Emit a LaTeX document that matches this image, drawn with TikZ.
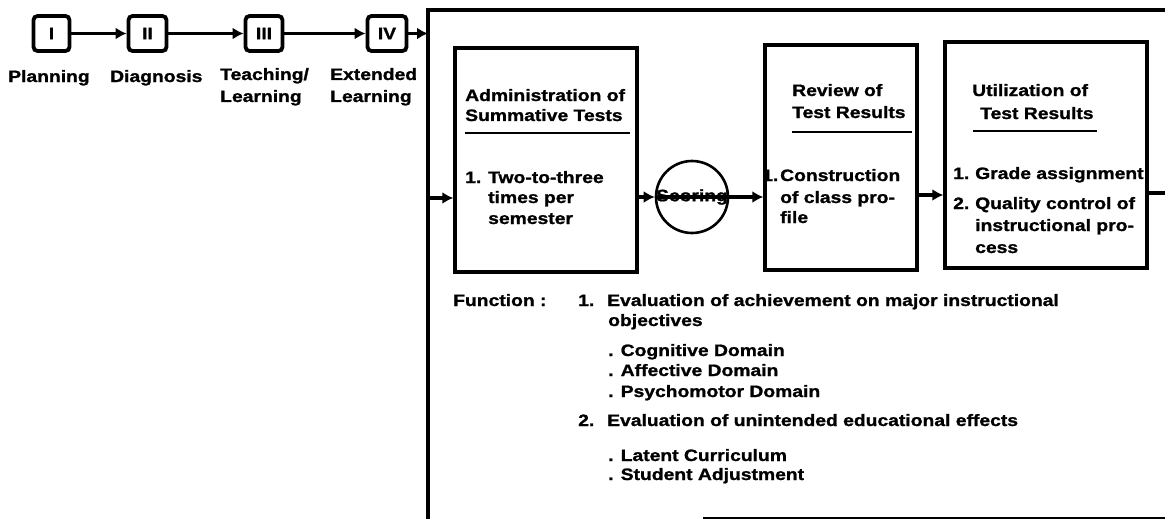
\documentclass[tikz,border=0pt]{standalone}
\usepackage{fontspec}
\setmainfont{Liberation Sans}[FakeStretch=1.17, BoldFeatures={FakeBold=1.2}]
\usetikzlibrary{arrows.meta}
\begin{document}
\begin{tikzpicture}[x=1pt,y=-1pt,
  tx/.style={anchor=base west, inner sep=0pt, font=\fontsize{16.5}{20}\selectfont\bfseries},
  bigbox/.style={draw, line width=3.4pt, inner sep=0pt, rectangle},
  smallbox/.style={draw, line width=3.8pt, rounded corners=4pt, minimum width=36pt, minimum height=35pt, inner sep=0pt, font=\fontsize{16.5}{20}\selectfont\bfseries},
  conn/.style={line width=3.6pt, -{Latex[length=11pt,width=12pt]}},
  plain/.style={line width=3.6pt},
  uline/.style={line width=2.2pt}]
\useasboundingbox (0,0) rectangle (1165,519);

% top process boxes
\node[smallbox] (b1) at (51.5,33.5) {I};
\node[smallbox, minimum width=38pt] (b2) at (147.5,33.5) {II};
\node[smallbox, minimum width=37pt] (b3) at (264,33.5) {III};
\node[smallbox, minimum width=39pt] (b4) at (387,33.5) {IV};
\node[tx] (l1) at (8,82) {Planning};
\node[tx] (l2) at (110,82) {Diagnosis};
\node[tx] (l3a) at (220,80) {Teaching/};
\node[tx] (l3b) at (220,102) {Learning};
\node[tx] (l4a) at (330,80) {Extended};
\node[tx] (l4b) at (330,102) {Learning};

% frame
\draw[line width=3.8pt] (428,525) -- (428,10) -- (1175,10);
\draw[line width=2pt] (703,518) -- (1175,518);
\coordinate (fr1) at (428,33.5);
\coordinate (fr2) at (428,198);

\draw[conn] (b1) -- (b2);
\draw[conn] (b2) -- (b3);
\draw[conn] (b3) -- (b4);
\draw[conn] (b4) -- (fr1);

% main boxes
\node[bigbox, minimum width=182pt, minimum height=224pt] (A) at (546,160) {};
\node[bigbox, minimum width=152pt, minimum height=225pt] (B) at (841,157.5) {};
\node[bigbox, minimum width=202pt, minimum height=226pt] (C) at (1046,155) {};
\node[circle, draw, line width=2.6pt, minimum size=72pt, inner sep=0pt] (S) at (692,197) {};

% connectors
\draw[conn] (fr2) -- (fr2 -| A.west);
\draw[conn] (A.east |- S) -- (S.west);
\draw[plain] (S.west) -- (S.east);
\draw[conn] (S.east) -- (S -| B.west);
\coordinate (bc) at (917,195);
\draw[conn] (B.east |- bc) -- (C.west |- bc);
\coordinate (out) at (1175,193);
\draw[plain] (C.east |- out) -- (out);
\node[inner sep=0pt, font=\fontsize{16.5}{20}\selectfont\bfseries] (Sl) at (S) {Scoring};

% box A text
\node[tx] (a1) at (465,101) {Administration of};
\node[tx] (a2) at (465,121) {Summative Tests};
\draw[uline] (465,133) -- (630,133);
\node[tx] (a3) at (465,183) {1.};
\node[tx] (a4) at (488,183) {Two-to-three};
\node[tx] (a5) at (488,203) {times per};
\node[tx] (a6) at (488,224) {semester};

% box B text
\node[tx] (r1) at (792,96) {Review of};
\node[tx] (r2) at (792,118) {Test Results};
\draw[uline] (792,132) -- (912,132);
\node[tx] (r3) at (762,181) {1.};
\node[tx] (r4) at (780,181) {Construction};
\node[tx] (r5) at (780,203) {of class pro-};
\node[tx] (r6) at (780,223) {file};

% box C text
\node[tx] (u1) at (972,96) {Utilization of};
\node[tx] (u2) at (980,119) {Test Results};
\draw[uline] (973,131) -- (1097,131);
\node[tx] (u3) at (953,179) {1.};
\node[tx] (u4) at (975,179) {Grade assignment};
\node[tx] (u5) at (953,209) {2.};
\node[tx] (u6) at (975,209) {Quality control of};
\node[tx] (u7) at (975,231) {instructional pro-};
\node[tx] (u8) at (975,253) {cess};

% function text
\node[tx] (f0) at (453,306) {Function :};
\node[tx] (f1) at (578,306) {1.};
\node[tx] (f2) at (607,306) {Evaluation of achievement on major instructional};
\node[tx] (f3) at (608,326) {objectives};
\node[tx] (f4) at (608,356) {. Cognitive Domain};
\node[tx] (f5) at (608,376) {. Affective Domain};
\node[tx] (f6) at (608,397) {. Psychomotor Domain};
\node[tx] (f7) at (578,426) {2.};
\node[tx] (f8) at (607,426) {Evaluation of unintended educational effects};
\node[tx] (f9) at (608,461) {. Latent Curriculum};
\node[tx] (f10) at (608,480) {. Student Adjustment};
\end{tikzpicture}
\end{document}
